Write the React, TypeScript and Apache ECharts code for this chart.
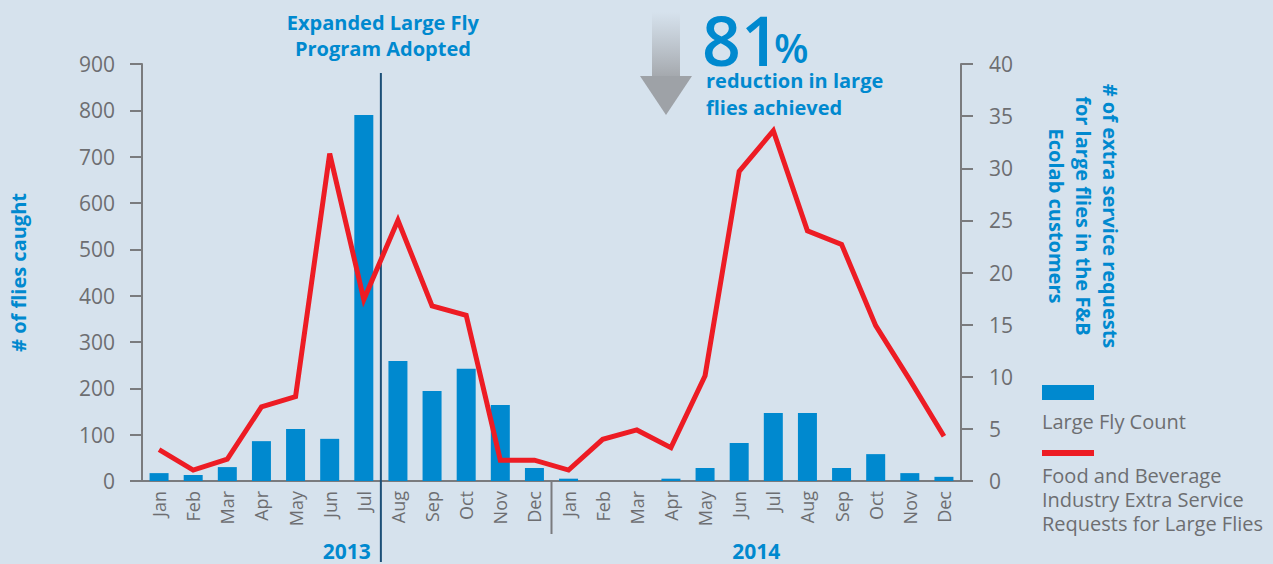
import React, { useEffect, useRef } from "react";
import * as echarts from "echarts";

const months = ["Jan", "Feb", "Mar", "Apr", "May", "Jun", "Jul", "Aug", "Sep", "Oct", "Nov", "Dec"];
const years = ["2013", "2014"];
const categories = [...months, ...months];
const flyCount = [17, 13, 30, 86, 112, 91, 790, 259, 194, 242, 164, 28, 5, 0, 0, 5, 28, 82, 147, 147, 28, 58, 17, 9];
const serviceRequests = [3.0, 1.05, 2.1, 7.1, 8.1, 31.4, 17.4, 25.0, 16.8, 15.9, 2.0, 2.0, 1.05, 4.0, 4.9, 3.2, 10.1, 29.7, 33.6, 24.0, 22.7, 14.9, 9.7, 4.3];
const leftAxis = { min: 0, max: 900, interval: 100, name: "# of flies caught" };
const rightAxis = { min: 0, max: 40, interval: 5 };
const rightAxisName = "# of extra service requests\nfor large flies in the F&B\nEcolab customers";
const seriesNames = ["Large Fly Count", "Food and Beverage\nIndustry Extra Service\nRequests for Large Flies"];
const programLabel = "Expanded Large Fly\nProgram Adopted";
const programAfterIndex = 6;
const reductionPct = "81";
const reductionText = "reduction in large\nflies achieved";

const BLUE = "#0089cf";
const RED = "#ed1c24";
const GRAY = "#6d6e71";
const AXIS = "#7a7b7e";
const NAVY = "#1c4f77";
const BG = "#d6e2ed";
const FONT = "'Open Sans', 'Noto Sans', sans-serif";

export default function App() {
  const ref = useRef<HTMLDivElement>(null);
  useEffect(() => {
    document.body.style.margin = "0";
    const chart = echarts.init(ref.current!, null, { renderer: "svg" });
    const option: any = {
      animation: false,
      backgroundColor: BG,
      textStyle: { fontFamily: FONT },
      grid: { left: 142, right: 312, top: 64, bottom: 83, containLabel: false },
      xAxis: [
        {
          type: "category",
          data: categories,
          boundaryGap: true,
          axisLine: { show: true, lineStyle: { color: AXIS, width: 2 } },
          axisTick: { show: false },
          axisLabel: { rotate: 90, color: GRAY, fontSize: 18, margin: 10, fontFamily: FONT, interval: 0 },
          splitLine: { show: false },
        },
      ],
      yAxis: [
        {
          type: "value",
          min: leftAxis.min,
          max: leftAxis.max,
          interval: leftAxis.interval,
          name: leftAxis.name,
          nameLocation: "middle",
          nameRotate: 90,
          nameGap: 114,
          nameTextStyle: { color: BLUE, fontSize: 20, fontWeight: "bold", fontFamily: FONT },
          axisLine: { show: true, lineStyle: { color: AXIS, width: 2 } },
          axisTick: { show: true, length: 12, lineStyle: { color: AXIS, width: 2 } },
          axisLabel: { color: GRAY, fontSize: 21, margin: 27, fontFamily: FONT },
          splitLine: { show: false },
        },
        {
          type: "value",
          min: rightAxis.min,
          max: rightAxis.max,
          interval: rightAxis.interval,
          position: "right",
          axisLine: { show: true, lineStyle: { color: AXIS, width: 2 } },
          axisTick: { show: true, length: 12, lineStyle: { color: AXIS, width: 2 } },
          axisLabel: { color: GRAY, fontSize: 21, margin: 28, fontFamily: FONT },
          splitLine: { show: false },
        },
      ],
      series: [
        {
          name: seriesNames[0],
          type: "bar",
          data: flyCount,
          barWidth: 19,
          itemStyle: { color: BLUE },
          yAxisIndex: 0,
          z: 2,
        },
        {
          name: seriesNames[1],
          type: "line",
          data: serviceRequests,
          yAxisIndex: 1,
          symbol: "none",
          lineStyle: { color: RED, width: 5, join: "miter" },
          z: 4,
        },
      ],
    };
    chart.setOption(option);

    const px = (i: number) => chart.convertToPixel({ xAxisIndex: 0 }, i) as number;
    const bw = px(1) - px(0);
    const xProgram = px(programAfterIndex) + bw / 2;
    const xYearDiv = px(11) + bw / 2;
    const base = chart.convertToPixel({ yAxisIndex: 0 }, 0) as number;
    const yearCenters = [(px(0) + px(11)) / 2, (px(12) + px(23)) / 2];

    const graphic: any[] = [
      { type: "line", z: 3, shape: { x1: xProgram, y1: 73, x2: xProgram, y2: 562 }, style: { stroke: NAVY, lineWidth: 2 } },
      { type: "line", z: 3, shape: { x1: xYearDiv, y1: base, x2: xYearDiv, y2: base + 53 }, style: { stroke: AXIS, lineWidth: 2 } },
      ...years.map((y, i) => ({
        type: "text",
        x: yearCenters[i],
        y: 551,
        style: { text: y, fill: BLUE, fontSize: 21, fontWeight: "bold", fontFamily: FONT, align: "center", verticalAlign: "middle", lineHeight: 22 },
      })),
      {
        type: "text",
        x: xProgram + 2,
        y: 35,
        style: { text: programLabel, fill: BLUE, fontSize: 20, fontWeight: "bold", fontFamily: FONT, align: "center", verticalAlign: "middle", lineHeight: 26 },
      },
      {
        type: "rect",
        shape: { x: 652, y: 12, width: 28, height: 65 },
        style: {
          fill: new echarts.graphic.LinearGradient(0, 0, 0, 1, [
            { offset: 0, color: "rgba(170,174,180,0)" },
            { offset: 1, color: "#a4a8ad" },
          ]),
        },
      },
      { type: "polygon", shape: { points: [[640, 76], [692, 76], [666, 115]] }, style: { fill: "#9ea2a7" } },
      {
        type: "text",
        x: 702,
        y: 39,
        style: { text: reductionPct, fill: BLUE, fontSize: 68, fontWeight: 600, fontFamily: FONT, align: "left", verticalAlign: "middle", lineHeight: 50 },
      },
      {
        type: "text",
        x: 774,
        y: 47,
        style: { text: "%", fill: BLUE, fontSize: 40, fontWeight: 600, fontFamily: FONT, align: "left", verticalAlign: "middle", lineHeight: 30 },
      },
      {
        type: "text",
        x: 706,
        y: 94,
        style: { text: reductionText, fill: BLUE, fontSize: 20, fontWeight: "bold", fontFamily: FONT, align: "left", verticalAlign: "middle", lineHeight: 27 },
      },
      {
        type: "text",
        x: 1083,
        y: 216,
        rotation: -Math.PI / 2,
        style: { text: rightAxisName, fill: BLUE, fontSize: 20, fontWeight: "bold", fontFamily: FONT, align: "center", verticalAlign: "middle", lineHeight: 27 },
      },
      { type: "rect", shape: { x: 1042, y: 385, width: 52, height: 15 }, style: { fill: BLUE } },
      {
        type: "text",
        x: 1042,
        y: 421,
        style: { text: seriesNames[0], fill: GRAY, fontSize: 20, fontFamily: FONT, align: "left", verticalAlign: "middle" },
      },
      { type: "rect", shape: { x: 1042, y: 450, width: 52, height: 6 }, style: { fill: RED } },
      {
        type: "text",
        x: 1042,
        y: 499,
        style: { text: seriesNames[1], fill: GRAY, fontSize: 20, fontFamily: FONT, align: "left", verticalAlign: "middle", lineHeight: 24 },
      },
    ];
    chart.setOption({ graphic });
    return () => chart.dispose();
  }, []);
  return <div ref={ref} style={{ position: "absolute", left: 0, top: 0, width: 1273, height: 564 }} />;
}
